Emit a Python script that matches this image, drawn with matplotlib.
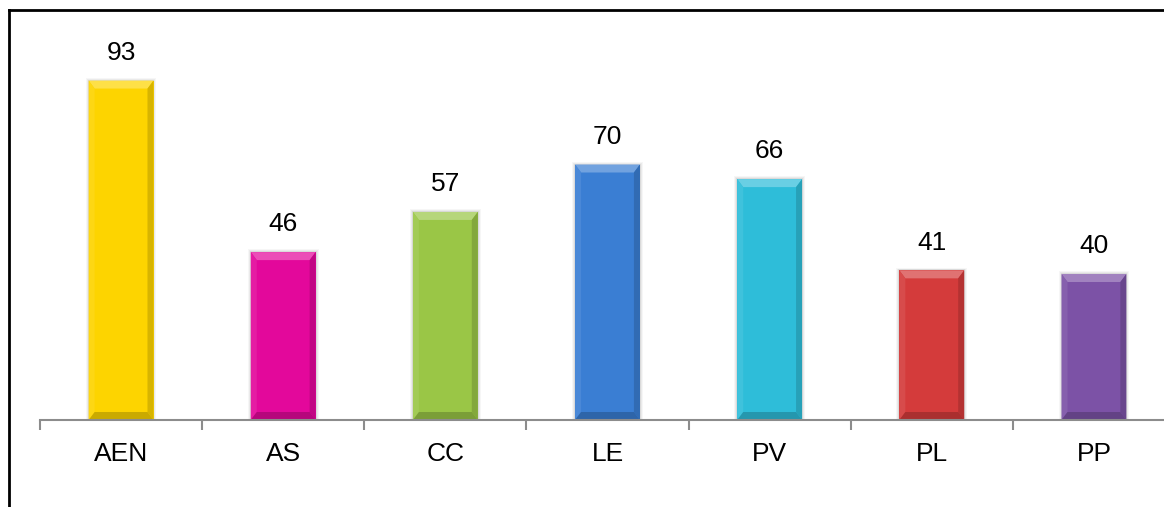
import matplotlib.pyplot as plt
from matplotlib.patches import Polygon, Rectangle
from matplotlib.lines import Line2D
from matplotlib.colors import to_rgb

categories = ['AEN', 'AS', 'CC', 'LE', 'PV', 'PL', 'PP']
values = [93, 46, 57, 70, 66, 41, 40]
colors = ['#FDD400', '#E3089B', '#9AC646', '#3A7ED3', '#2EBDD9', '#D43B3B', '#7C52A6']

plt.rcParams['font.family'] = ['Liberation Sans', 'DejaVu Sans']


def shade(c, f):
    r, g, b = to_rgb(c)
    if f >= 0:
        return (r + (1 - r) * f, g + (1 - g) * f, b + (1 - b) * f)
    return (r * (1 + f), g * (1 + f), b * (1 + f))


W, H = 1164, 507
fig = plt.figure(figsize=(W / 100, H / 100), dpi=100)
ax = fig.add_axes([40 / W, 87 / H, 1135 / W, 365 / H])

x = list(range(len(categories)))
bw = 0.40
bars = ax.bar(x, values, width=bw, color=colors, zorder=3, linewidth=0)

ax.set_xlim(-0.5, len(categories) - 0.5)
ax.set_ylim(0, 100)

# bevel size in data units
bx = 6 / 162.1
by = 8 / 3.65
for rect, c in zip(bars, colors):
    x0, y0 = rect.get_x(), rect.get_y()
    w, h = rect.get_width(), rect.get_height()
    x1, y1 = x0 + w, y0 + h
    # soft shadow around the bar
    for k, a in [(3, 0.05), (2, 0.07), (1, 0.10)]:
        ax.add_patch(Rectangle((x0 - k * 0.006, y0), w + 2 * k * 0.006, h + k * 0.25,
                               color='#555555', alpha=a, zorder=2, linewidth=0))
    # top face highlight
    ax.add_patch(Polygon([(x0, y1), (x1, y1), (x1 - bx, y1 - by), (x0 + bx, y1 - by)],
                         closed=True, color=shade(c, 0.28), zorder=4, linewidth=0))
    # left edge
    ax.add_patch(Polygon([(x0, y1), (x0 + bx, y1 - by), (x0 + bx, y0 + by), (x0, y0)],
                         closed=True, color=shade(c, 0.08), zorder=4, linewidth=0))
    # right edge
    ax.add_patch(Polygon([(x1, y1), (x1 - bx, y1 - by), (x1 - bx, y0 + by), (x1, y0)],
                         closed=True, color=shade(c, -0.15), zorder=4, linewidth=0))
    # bottom edge
    ax.add_patch(Polygon([(x0, y0), (x1, y0), (x1 - bx, y0 + by), (x0 + bx, y0 + by)],
                         closed=True, color=shade(c, -0.20), zorder=4, linewidth=0))
    ax.text(x0 + w / 2, y1 + 4.3, str(int(h)), ha='center', va='bottom',
            fontsize=19, color='black', zorder=5)

for s in ['top', 'right', 'left']:
    ax.spines[s].set_visible(False)
ax.spines['bottom'].set_color('#8C8C8C')
ax.spines['bottom'].set_linewidth(1.5)
ax.spines['bottom'].set_zorder(6)

ax.set_yticks([])
ax.set_xticks(x)
ax.set_xticklabels(categories, fontsize=19)
ax.tick_params(axis='x', which='major', length=0, pad=16)
ax.set_xticks([i - 0.5 for i in x] + [len(categories) - 0.5], minor=True)
ax.tick_params(axis='x', which='minor', length=7, width=1.5, color='#8C8C8C')

# frame lines along the top and left edge of the figure
fig.add_artist(Line2D([9 / W, 9 / W], [0, 1 - 10 / H], color='black', lw=2,
                      transform=fig.transFigure, solid_capstyle='projecting'))
fig.add_artist(Line2D([9 / W, 1], [1 - 10 / H, 1 - 10 / H], color='black', lw=2,
                      transform=fig.transFigure, solid_capstyle='projecting'))

fig.savefig('out.png', dpi=100)
